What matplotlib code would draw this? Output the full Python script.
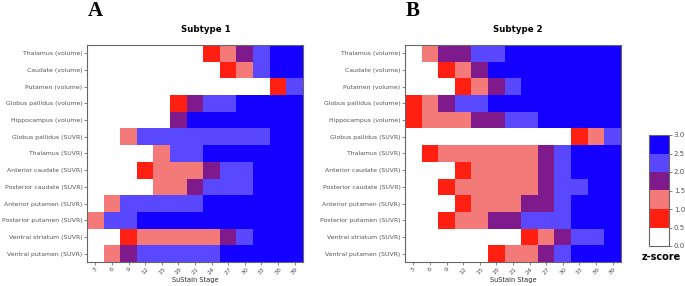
import numpy as np
import matplotlib
matplotlib.use('Agg')
import matplotlib.pyplot as plt
from matplotlib.colors import ListedColormap, BoundaryNorm
from matplotlib.cm import ScalarMappable

# --- Datos ---
regions = ['Thalamus (volume)', 'Caudate (volume)', 'Putamen (volume)',
           'Globus pallidus (volume)', 'Hippocampus (volume)',
           'Globus pallidus (SUVR)', 'Thalamus (SUVR)', 'Anterior caudate (SUVR)',
           'Posterior caudate (SUVR)', 'Anterior putamen (SUVR)',
           'Posterior putamen (SUVR)', 'Ventral striatum (SUVR)',
           'Ventral putamen (SUVR)']
stages = [3, 6, 9, 12, 15, 18, 21, 24, 27, 30, 33, 36, 39]
zbounds = [0.0, 0.5, 1.0, 1.5, 2.0, 2.5, 3.0]

# z-score band index per cell (0 = 0.0-0.5, ..., 5 = 2.5-3.0)
subtype1 = [
    [0, 0, 0, 0, 0, 0, 0, 1, 2, 3, 4, 5, 5],
    [0, 0, 0, 0, 0, 0, 0, 0, 1, 2, 4, 5, 5],
    [0, 0, 0, 0, 0, 0, 0, 0, 0, 0, 0, 1, 4],
    [0, 0, 0, 0, 0, 1, 3, 4, 4, 5, 5, 5, 5],
    [0, 0, 0, 0, 0, 3, 5, 5, 5, 5, 5, 5, 5],
    [0, 0, 2, 4, 4, 4, 4, 4, 4, 4, 4, 5, 5],
    [0, 0, 0, 0, 2, 4, 4, 5, 5, 5, 5, 5, 5],
    [0, 0, 0, 1, 2, 2, 2, 3, 4, 4, 5, 5, 5],
    [0, 0, 0, 0, 2, 2, 3, 4, 4, 4, 5, 5, 5],
    [0, 2, 4, 4, 4, 4, 4, 5, 5, 5, 5, 5, 5],
    [2, 4, 4, 5, 5, 5, 5, 5, 5, 5, 5, 5, 5],
    [0, 0, 1, 2, 2, 2, 2, 2, 3, 4, 5, 5, 5],
    [0, 2, 3, 4, 4, 4, 4, 4, 5, 5, 5, 5, 5],
]
subtype2 = [
    [0, 2, 3, 3, 4, 4, 5, 5, 5, 5, 5, 5, 5],
    [0, 0, 1, 2, 3, 5, 5, 5, 5, 5, 5, 5, 5],
    [0, 0, 0, 1, 2, 3, 4, 5, 5, 5, 5, 5, 5],
    [1, 2, 3, 4, 4, 5, 5, 5, 5, 5, 5, 5, 5],
    [1, 2, 2, 2, 3, 3, 4, 4, 5, 5, 5, 5, 5],
    [0, 0, 0, 0, 0, 0, 0, 0, 0, 0, 1, 2, 4],
    [0, 1, 2, 2, 2, 2, 2, 2, 3, 4, 5, 5, 5],
    [0, 0, 0, 1, 2, 2, 2, 2, 3, 4, 5, 5, 5],
    [0, 0, 1, 2, 2, 2, 2, 2, 3, 4, 4, 5, 5],
    [0, 0, 0, 1, 2, 2, 2, 3, 3, 4, 5, 5, 5],
    [0, 0, 1, 2, 2, 3, 3, 4, 4, 4, 5, 5, 5],
    [0, 0, 0, 0, 0, 0, 0, 1, 2, 3, 4, 4, 5],
    [0, 0, 0, 0, 0, 1, 2, 2, 3, 4, 5, 5, 5],
]

colors = ['#ffffff', '#ff2012', '#f47a7a', '#7e1a8c', '#5a48ff', '#1400ff']
cmap = ListedColormap(colors)
norm_idx = BoundaryNorm(np.arange(-0.5, 6.5, 1.0), cmap.N)
norm_z = BoundaryNorm(zbounds, cmap.N)

W, H = 685, 286
fig = plt.figure(figsize=(W / 100, H / 100), dpi=100)

panels = [
    (subtype1, 'Subtype 1', 'A', 87, 0.55),
    (subtype2, 'Subtype 2', 'B', 405, 0.52),
]
for mat, title, letter, x0, tx in panels:
    ax = fig.add_axes([x0 / W, 1 - 262 / H, 216 / W, 217 / H])
    ax.imshow(np.array(mat), cmap=cmap, norm=norm_idx, aspect='auto',
              interpolation='nearest')
    ax.set_yticks(range(len(regions)))
    ax.set_yticklabels(regions, fontsize=4.45, color='#2b2b2b')
    ax.set_xticks(range(len(stages)))
    ax.set_xticklabels([str(s) for s in stages], fontsize=4.6, rotation=45,
                       color='#2b2b2b')
    ax.set_xlabel('SuStain Stage', fontsize=4.8, color='#2b2b2b', labelpad=1)
    ax.tick_params(length=2, width=0.5, pad=1.2, colors='#555555')
    for sp in ax.spines.values():
        sp.set_color('#666666')
        sp.set_linewidth(0.8)
    ax.text(tx, 1.07, title, transform=ax.transAxes, ha='center', va='center',
            fontsize=6.2, fontweight='bold')
    fig.text((x0 + 8) / W, 1 - 11 / H, letter, ha='center', va='center',
             fontsize=15, fontweight='bold', family='Liberation Serif')

# --- Barra de color ---
cax = fig.add_axes([649 / W, 1 - 246 / H, 20 / W, 111 / H])
cb = fig.colorbar(ScalarMappable(norm=norm_z, cmap=cmap), cax=cax,
                  ticks=zbounds)
cb.ax.set_yticklabels([f'{v:.1f}' for v in zbounds], fontsize=5, color='#2b2b2b')
cb.ax.tick_params(length=2, width=0.5, pad=1.5, colors='#555555')
cb.outline.set_edgecolor('#666666')
cb.outline.set_linewidth(0.8)
fig.text(661 / W, 1 - 257 / H, 'z-score', ha='center', va='center',
         fontsize=7, fontweight='bold')

fig.savefig('out.png', dpi=100)
